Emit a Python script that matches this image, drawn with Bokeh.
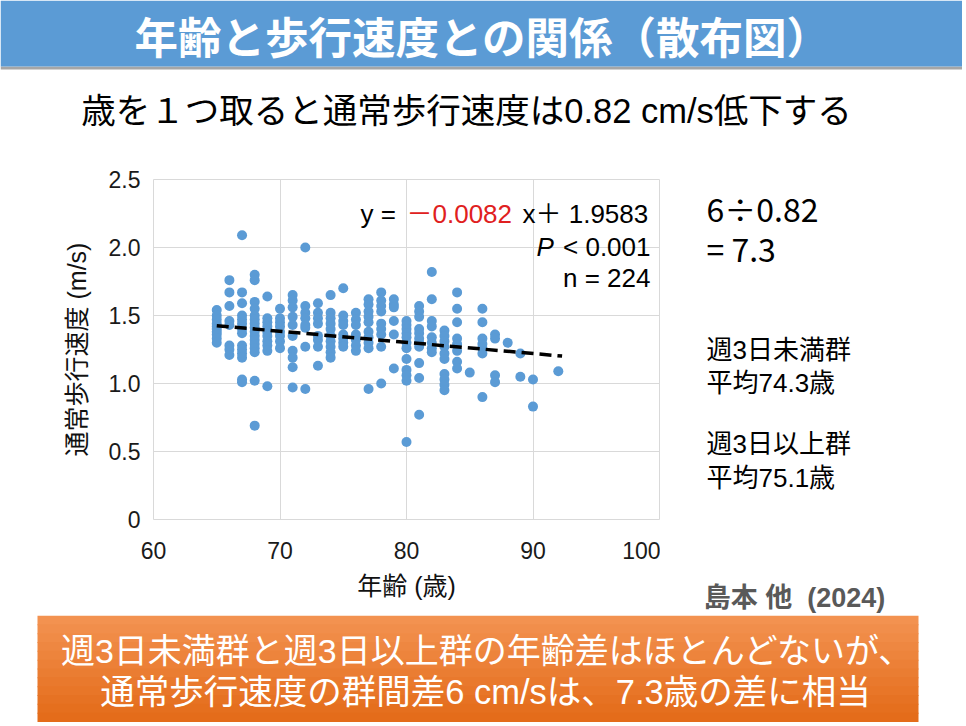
from bokeh.plotting import figure
from bokeh.models import FixedTicker, Range1d
from bokeh.layouts import column, row
from bokeh.core.properties import value
from bokeh.embed import file_html
from bokeh.resources import INLINE

# data (age in years, usual walking speed in m/s)
age = ([65] * 10 + [66] * 8 + [67] * 14 + [68] * 16 + [69] * 10 + [70] * 8
       + [71] * 10 + [72] * 8 + [73] * 8 + [74] * 10 + [75] * 8 + [76] * 7
       + [77] * 10 + [78] * 9 + [79] * 6 + [80] * 12 + [81] * 11 + [82] * 8
       + [83] * 10 + [84] * 8 + [85] * 1 + [86] * 7 + [87] * 4 + [88] * 1
       + [89] * 2 + [90] * 2 + [92] * 1)
speed = [1.54, 1.50, 1.47, 1.44, 1.42, 1.40, 1.38, 1.36, 1.33, 1.30,
         1.76, 1.67, 1.57, 1.46, 1.43, 1.28, 1.25, 1.21,
         2.09, 1.67, 1.59, 1.50, 1.47, 1.44, 1.40, 1.37, 1.28, 1.25, 1.22, 1.19, 1.03, 1.01,
         1.80, 1.76, 1.60, 1.55, 1.50, 1.47, 1.44, 1.41, 1.38, 1.35, 1.32, 1.29, 1.26, 1.23, 1.02, 0.69,
         1.64, 1.48, 1.45, 1.42, 1.38, 1.35, 1.31, 1.28, 1.24, 0.98,
         1.55, 1.48, 1.45, 1.42, 1.38, 1.35, 1.31, 1.26,
         1.65, 1.61, 1.56, 1.49, 1.43, 1.35, 1.24, 1.19, 1.12, 0.97,
         2.00, 1.57, 1.52, 1.48, 1.43, 1.41, 1.27, 0.96,
         1.59, 1.52, 1.48, 1.44, 1.35, 1.32, 1.27, 1.13,
         1.65, 1.52, 1.48, 1.44, 1.40, 1.35, 1.31, 1.27, 1.23, 1.19,
         1.70, 1.50, 1.46, 1.43, 1.36, 1.33, 1.30, 1.27,
         1.52, 1.47, 1.43, 1.36, 1.32, 1.28, 1.24,
         1.62, 1.58, 1.53, 1.49, 1.45, 1.38, 1.34, 1.30, 1.26, 0.96,
         1.67, 1.61, 1.57, 1.53, 1.44, 1.40, 1.36, 1.27, 1.00,
         1.62, 1.58, 1.56, 1.46, 1.36, 1.11,
         1.46, 1.43, 1.40, 1.37, 1.34, 1.30, 1.26, 1.18, 1.10, 1.06, 1.02, 0.57,
         1.57, 1.53, 1.49, 1.40, 1.37, 1.33, 1.30, 1.27, 1.15, 1.04, 0.77,
         1.82, 1.62, 1.46, 1.42, 1.34, 1.30, 1.26, 1.23,
         1.39, 1.35, 1.31, 1.27, 1.22, 1.18, 1.07, 1.03, 0.99, 0.95,
         1.67, 1.55, 1.45, 1.33, 1.29, 1.24, 1.16, 1.11,
         1.08,
         1.55, 1.45, 1.33, 1.29, 1.26, 1.22, 0.90,
         1.36, 1.33, 1.06, 1.01,
         1.30,
         1.22, 1.05,
         1.03, 0.83,
         1.09]

# regression line stated in the chart
slope = -0.0082
intercept = 1.9583
trend_x = [65, 92.3]
trend_y = [slope * x + intercept for x in trend_x]

x_ticks = [60, 70, 80, 90, 100]
y_ticks = [0, 0.5, 1.0, 1.5, 2.0, 2.5]
y_tick_labels = ["0", "0.5", "1.0", "1.5", "2.0", "2.5"]

MIX = "Liberation Sans, Noto Sans CJK JP"
CJK = "Noto Sans CJK JP"
W, H = 962, 722
HEAD_H, MID_B = 140, 615
CHART_W = 660
# plot frame in page pixels
FX0, FX1, FY0, FY1 = 153, 659, 179, 519


def deco(x0, x1, y0, y1):
    # a bare figure whose data units are page pixels (y grows downwards)
    f = figure(width=x1 - x0, height=y1 - y0, x_range=Range1d(x0, x1), y_range=Range1d(y1, y0),
               output_backend="svg", toolbar_location=None, x_axis_type=None, y_axis_type=None,
               min_border=0)
    f.outline_line_color = None
    f.grid.visible = False
    f.background_fill_color = "white"
    f.border_fill_color = "white"
    return f


def txt(f, x, y, s, size, color="black", font=MIX, align="left", style="normal"):
    f.text(x=[x], y=[y], text=[s], text_font=value(font), text_font_size=size,
           text_color=color, text_align=align, text_baseline="middle", text_font_style=style)


# header: title bar and headline
head = deco(0, W, 0, HEAD_H)
head.quad(left=[0], right=[W], top=[66], bottom=[69], color="#A6A6A6", line_color=None)
head.quad(left=[0], right=[W], top=[0], bottom=[66], color="#5B9BD5", line_color=None)
txt(head, 482, 35, "年齢と歩行速度との関係（散布図）", "43.5px", "white", CJK, "center", "bold")
txt(head, 466, 110, "歳を１つ取ると通常歩行速度は0.82 cm/s低下する", "34.5px", "black", MIX, "center")

# scatter chart
p = figure(width=CHART_W, height=MID_B - HEAD_H, x_range=Range1d(60, 100), y_range=Range1d(0, 2.5),
           output_backend="svg", toolbar_location=None,
           min_border_left=FX0, min_border_right=CHART_W - FX1, min_border_top=FY0 - HEAD_H,
           min_border_bottom=MID_B - FY1)
p.background_fill_color = "white"
p.border_fill_color = "white"
p.outline_line_color = "#D9D9D9"
p.xgrid.grid_line_color = "#D9D9D9"
p.ygrid.grid_line_color = "#D9D9D9"
p.xaxis.ticker = FixedTicker(ticks=x_ticks)
p.yaxis.ticker = FixedTicker(ticks=y_ticks)
p.yaxis.major_label_overrides = dict(zip(y_ticks, y_tick_labels))
for ax in (p.xaxis[0], p.yaxis[0]):
    ax.axis_line_color = None
    ax.major_tick_line_color = None
    ax.minor_tick_line_color = None
    ax.major_label_text_font = MIX
    ax.major_label_text_font_size = "23px"
    ax.major_label_text_color = "#1a1a1a"
    ax.axis_label_text_font = MIX
    ax.axis_label_text_font_size = "25px"
    ax.axis_label_text_font_style = "normal"
    ax.axis_label_text_color = "#111111"
p.xaxis.axis_label = "年齢 (歳)"
p.yaxis.axis_label = "通常歩行速度 (m/s)"
p.xaxis.major_label_standoff = 16
p.yaxis.major_label_standoff = 7
p.xaxis.axis_label_standoff = 10
p.yaxis.axis_label_standoff = 15

p.scatter(age, speed, size=10, color="#5B9BD5", line_color=None)
p.line(trend_x, trend_y, line_color="black", line_width=3.5, line_dash="12 6")


# equation text, placed by page pixel inside the chart frame
def px(x):
    return 60 + (x - FX0) * 40 / (FX1 - FX0)


def py(y):
    return 2.5 * (FY1 - y) / (FY1 - FY0)


txt(p, px(360), py(213), "y =", "26px")
txt(p, px(406), py(213), "－0.0082", "26px", "#E02020")
txt(p, px(522), py(213), "x＋ 1.9583", "26px")
txt(p, px(536), py(246), "P", "26px", style="italic")
txt(p, px(650), py(246), "< 0.001", "26px", align="right")
txt(p, px(650), py(277), "n = 224", "26px", align="right")

# right-hand notes; its frame lines up with the chart frame, the source sits in the axis label
side = figure(width=W - CHART_W, height=MID_B - HEAD_H, x_range=Range1d(CHART_W, 928),
              y_range=Range1d(FY1, FY0), output_backend="svg", toolbar_location=None,
              y_axis_type=None, min_border_left=0, min_border_right=W - 928,
              min_border_top=FY0 - HEAD_H, min_border_bottom=MID_B - FY1)
side.outline_line_color = None
side.grid.visible = False
side.xaxis.ticker = FixedTicker(ticks=[])
side.xaxis.axis_line_color = None
side.xaxis.major_tick_out = 0
side.xaxis.major_label_standoff = 0
side.xaxis.axis_label = "島本 他\u00a0\u00a0(2024)"
side.xaxis.axis_label_text_font = MIX
side.xaxis.axis_label_text_font_size = "27px"
side.xaxis.axis_label_text_font_style = "bold"
side.xaxis.axis_label_text_color = "#595959"
side.xaxis.axis_label_standoff = 63
txt(side, 706, 207, "6÷0.82", "32px", font=CJK)
txt(side, 706, 247, "= 7.3", "32px", font=CJK)
txt(side, 706, 349, "週3日未満群", "26px")
txt(side, 706, 382, "平均74.3歳", "26px")
txt(side, 706, 443, "週3日以上群", "26px")
txt(side, 706, 477, "平均75.1歳", "26px")

# footer: orange summary box with a soft vertical gradient
foot = deco(0, W, MID_B, H)
top_c = (243, 146, 80)
bot_c = (228, 108, 26)
n_band = 12
box_top, box_bot = 615, 721
for i in range(n_band):
    t = i / (n_band - 1)
    c = "#%02x%02x%02x" % tuple(int(a + (b - a) * t) for a, b in zip(top_c, bot_c))
    y0 = box_top + (box_bot - box_top) * i / n_band
    y1 = box_top + (box_bot - box_top) * (i + 1) / n_band + 1
    foot.quad(left=[37], right=[918], top=[y0], bottom=[y1], color=c, line_color=None)
txt(foot, 487, 650, "週3日未満群と週3日以上群の年齢差はほとんどないが、", "34px", "white", MIX, "center")
txt(foot, 485, 691, "通常歩行速度の群間差6 cm/sは、7.3歳の差に相当", "34.5px", "white", MIX, "center")

page = column(head, row(p, side), foot)
open("out.html", "w").write(file_html(page, INLINE))
